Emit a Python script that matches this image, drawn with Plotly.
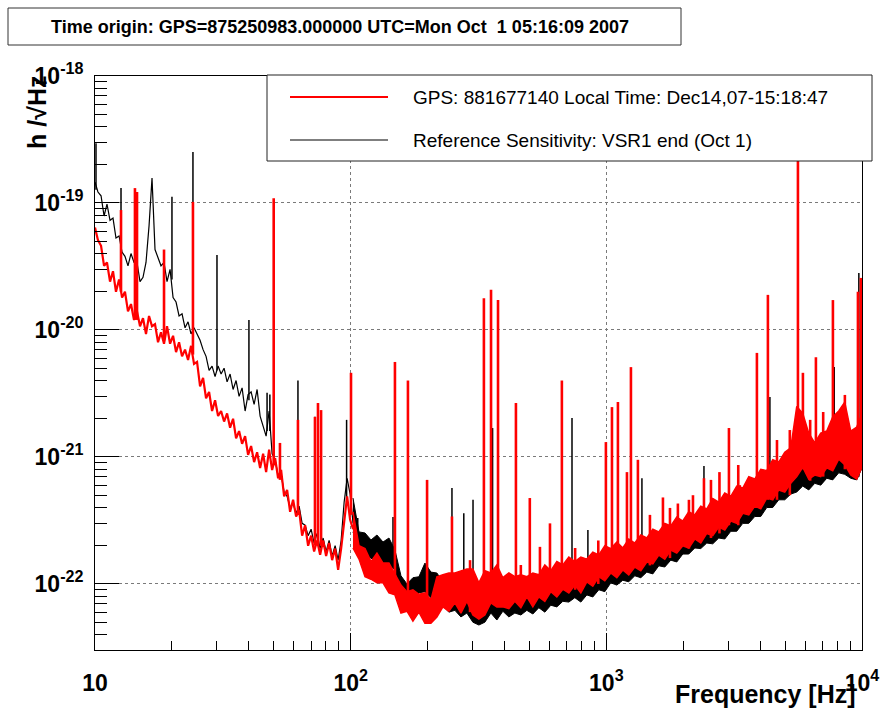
import plotly.graph_objects as go

# ---------------- data ----------------
lf_freq = [10.00, 10.27, 10.56, 10.85, 11.14, 11.45, 11.76, 12.08, 12.42, 12.76,
           13.10, 13.46, 13.83, 14.21, 14.60, 15.00, 15.41, 15.83, 16.27, 16.71,
           17.17, 17.64, 18.12, 18.62, 19.13, 19.66, 20.20, 20.75, 21.32, 21.90,
           22.50, 23.12, 23.75, 24.40, 25.07, 25.76, 26.47, 27.19, 27.94, 28.70,
           29.49, 30.30, 31.13, 31.98, 32.86, 33.76, 34.68, 35.63, 36.61, 37.61,
           38.65, 39.70, 40.79, 41.91, 43.06, 44.24, 45.45, 46.70, 47.97, 49.29,
           50.64, 52.02, 53.45, 54.92, 56.42, 57.96, 59.55, 61.18, 62.86, 64.58,
           66.35, 68.17, 70.03, 71.95, 73.92, 75.95, 78.03, 80.16, 82.36, 84.62,
           86.94, 89.32, 91.76, 94.28, 96.86, 99.51, 102.2]

red_lf = [6.4e-20, 5.1e-20, 4.6e-20, 3.2e-20, 3.4e-20, 2.4e-20, 2.9e-20, 2.0e-20, 2.5e-20, 1.8e-20,
          2.0e-20, 1.4e-20, 1.6e-20, 1.2e-20, 1.4e-20, 1.07e-20, 1.24e-20, 9.3e-21, 1.29e-20, 1.07e-20,
          1.11e-20, 8.0e-21, 9.6e-21, 7.8e-21, 1.07e-20, 7.8e-21, 9.0e-21, 6.7e-21, 8.0e-21, 6.2e-21,
          7.0e-21, 5.8e-21, 7.5e-21, 5.4e-21, 5.6e-21, 3.6e-21, 4.2e-21, 2.9e-21, 3.25e-21, 2.3e-21,
          2.8e-21, 2.1e-21, 2.3e-21, 1.9e-21, 2.2e-21, 1.7e-21, 2.0e-21, 1.4e-21, 1.6e-21, 1.27e-21,
          1.46e-21, 1.04e-21, 1.22e-21, 9.1e-22, 1.09e-21, 8.2e-22, 1.06e-21, 7.6e-22, 1.14e-21, 7.9e-22,
          9.8e-22, 6.8e-22, 7.9e-22, 4.9e-22, 5.5e-22, 3.7e-22, 4.6e-22, 3.4e-22, 3.8e-22, 2.4e-22,
          2.9e-22, 2.0e-22, 2.4e-22, 1.8e-22, 2.2e-22, 1.7e-22, 2.2e-22, 1.66e-22, 2.1e-22, 1.54e-22,
          1.9e-22, 1.29e-22, 1.9e-22, 3.2e-22, 4.9e-22, 3.2e-22, 2.7e-22]

blk_lf = [1.46e-19, 1.22e-19, 1.14e-19, 7.9e-20, 9.8e-20, 7.3e-20, 7.6e-20, 5.3e-20, 5.5e-20, 4.1e-20,
          3.8e-20, 3.2e-20, 4.0e-20, 3.4e-20, 3.4e-20, 2.4e-20, 2.6e-20, 3.4e-20, 6.6e-20, 1.57e-19,
          4.3e-20, 3.7e-20, 3.2e-20, 3.4e-20, 2.4e-20, 3.0e-20, 1.8e-20, 1.66e-20, 1.29e-20, 1.34e-20,
          1.04e-20, 1.16e-20, 9.3e-21, 1.04e-20, 9.3e-21, 8.3e-21, 7.0e-21, 6.2e-21, 4.8e-21, 5.2e-21,
          4.3e-21, 5.2e-21, 4.5e-21, 5.0e-21, 3.9e-21, 4.5e-21, 3.4e-21, 4.0e-21, 3.0e-21, 3.5e-21,
          2.3e-21, 3.1e-21, 3.25e-21, 2.6e-21, 3.4e-21, 2.1e-21, 1.75e-21, 1.46e-21, 2.3e-21, 1.06e-21,
          9.5e-22, 7.1e-22, 7.3e-22, 5.3e-22, 4.9e-22, 4.0e-22, 4.3e-22, 3.6e-22, 4.1e-22, 3.0e-22,
          2.9e-22, 2.4e-22, 2.7e-22, 2.1e-22, 2.5e-22, 1.9e-22, 2.3e-22, 1.8e-22, 2.2e-22, 1.66e-22,
          2.0e-22, 1.54e-22, 2.2e-22, 4.4e-22, 6.8e-22, 5.1e-22, 3.0e-22]

band_freq = [102.1, 107.8, 113.8, 120.1, 126.7, 133.8, 141.2, 149.0, 157.3, 166.0,
             175.2, 184.9, 195.2, 206.0, 217.4, 229.5, 242.2, 255.7, 269.9, 284.8,
             300.6, 317.3, 334.9, 353.5, 373.1, 393.8, 415.7, 438.7, 463.1, 488.8,
             515.9, 544.5, 574.7, 606.6, 640.3, 675.9, 713.4, 753.0, 794.8, 838.9,
             885.4, 934.6, 986.5, 1041, 1099, 1160, 1224, 1292, 1364, 1440,
             1520, 1604, 1693, 1787, 1886, 1991, 2101, 2218, 2341, 2471,
             2608, 2753, 2906, 3067, 3237, 3417, 3607, 3807, 4018, 4241,
             4477, 4725, 4988, 5264, 5557, 5865, 6191, 6534, 6897, 7280,
             7684, 8110, 8561, 9036, 9537, 10000]

red_hi = [3.7e-22, 2.0e-22, 1.9e-22, 1.5e-22, 1.75e-22, 1.46e-22, 1.46e-22, 1.18e-22, 9.8e-23, 8.7e-23,
          9.0e-23, 8.3e-23, 8.5e-23, 7.5e-23, 1.14e-22, 1.18e-22, 1.22e-22, 1.22e-22, 1.27e-22, 1.31e-22,
          1.31e-22, 1.02e-22, 1.27e-22, 1.22e-22, 1.41e-22, 1.12e-22, 1.22e-22, 1.14e-22, 1.18e-22, 1.14e-22,
          1.22e-22, 1.18e-22, 1.41e-22, 1.27e-22, 1.5e-22, 1.41e-22, 1.63e-22, 1.5e-22, 1.63e-22, 1.57e-22,
          1.78e-22, 1.69e-22, 2.0e-22, 1.9e-22, 2.14e-22, 1.92e-22, 2.26e-22, 2.1e-22, 2.43e-22, 2.3e-22,
          2.7e-22, 2.57e-22, 3.0e-22, 2.86e-22, 3.37e-22, 3.13e-22, 3.7e-22, 3.5e-22, 4.1e-22, 3.9e-22,
          4.7e-22, 4.4e-22, 5.2e-22, 4.9e-22, 5.9e-22, 5.7e-22, 7.0e-22, 6.7e-22, 8.0e-22, 7.8e-22,
          9.5e-22, 9.1e-22, 1.09e-21, 1.18e-21, 2.5e-21, 2.2e-21, 1.54e-21, 1.29e-21, 1.54e-21, 1.6e-21,
          2.07e-21, 2.3e-21, 2.7e-21, 1.6e-21, 1.72e-21, 2.2e-21]

red_lo = [1.92e-22, 1.57e-22, 1.14e-22, 1.09e-22, 1.02e-22, 1.02e-22, 8.5e-23, 8.2e-23, 5.9e-23, 6.1e-23,
          5.1e-23, 6.0e-23, 4.9e-23, 4.9e-23, 5.5e-23, 6.6e-23, 6.1e-23, 7.1e-23, 5.9e-23, 7.3e-23,
          5.7e-23, 5.3e-23, 5.7e-23, 7.1e-23, 6.6e-23, 6.6e-23, 6.4e-23, 7.3e-23, 6.5e-23, 7.9e-23,
          6.6e-23, 7.9e-23, 7.3e-23, 8.7e-23, 7.9e-23, 9.1e-23, 8.5e-23, 9.8e-23, 8.5e-23, 1.04e-22,
          9.6e-23, 1.14e-22, 1.06e-22, 1.22e-22, 1.12e-22, 1.29e-22, 1.18e-22, 1.36e-22, 1.27e-22, 1.49e-22,
          1.44e-22, 1.69e-22, 1.57e-22, 1.85e-22, 1.75e-22, 2.0e-22, 1.92e-22, 2.26e-22, 2.1e-22, 2.5e-22,
          2.4e-22, 2.8e-22, 2.66e-22, 3.13e-22, 3.0e-22, 3.6e-22, 3.5e-22, 4.1e-22, 3.9e-22, 4.75e-22,
          4.6e-22, 5.5e-22, 5.3e-22, 6.2e-22, 7.0e-22, 8.3e-22, 6.7e-22, 7.2e-22, 7.0e-22, 8.2e-22,
          7.8e-22, 9.6e-22, 8.7e-22, 7.2e-22, 6.7e-22, 8.3e-22]

blk_hi = [4.75e-22, 2.57e-22, 2.52e-22, 2.22e-22, 2.43e-22, 2.14e-22, 2.3e-22, 1.85e-22, 1.16e-22, 1.0e-22,
          1.12e-22, 1.14e-22, 1.46e-22, 1.24e-22, 1.22e-22, 1.04e-22, 1.12e-22, 1.14e-22, 1.12e-22, 1.07e-22,
          1.02e-22, 7.9e-23, 1.02e-22, 1.04e-22, 1.02e-22, 9.1e-23, 9.3e-23, 8.7e-23, 8.8e-23, 8.7e-23,
          9.0e-23, 8.7e-23, 9.6e-23, 9.1e-23, 9.8e-23, 9.5e-23, 1.02e-22, 9.8e-23, 1.02e-22, 1.04e-22,
          1.16e-22, 1.14e-22, 1.29e-22, 1.24e-22, 1.39e-22, 1.36e-22, 1.54e-22, 1.49e-22, 1.66e-22, 1.63e-22,
          1.92e-22, 1.9e-22, 2.1e-22, 2.07e-22, 2.3e-22, 2.34e-22, 2.66e-22, 2.57e-22, 2.9e-22, 2.86e-22,
          3.3e-22, 3.25e-22, 3.76e-22, 3.7e-22, 4.3e-22, 4.2e-22, 4.9e-22, 4.9e-22, 5.7e-22, 5.7e-22,
          6.6e-22, 6.7e-22, 7.8e-22, 7.6e-22, 9.8e-22, 9.1e-22, 9.5e-22, 9.5e-22, 1.07e-21, 1.06e-21,
          1.22e-21, 1.2e-21, 1.36e-21, 1.09e-21, 1.22e-21, 1.31e-21]

blk_lo = [2.57e-22, 1.92e-22, 1.63e-22, 1.6e-22, 1.44e-22, 1.46e-22, 1.41e-22, 1.29e-22, 7.9e-23, 8.2e-23,
          7.6e-23, 8.5e-23, 8.7e-23, 7.8e-23, 6.6e-23, 6.7e-23, 6.0e-23, 6.2e-23, 5.5e-23, 5.9e-23,
          5.0e-23, 4.75e-23, 5.0e-23, 5.9e-23, 5.2e-23, 6.1e-23, 5.5e-23, 5.9e-23, 5.7e-23, 6.2e-23,
          5.8e-23, 6.5e-23, 6.0e-23, 6.8e-23, 6.6e-23, 7.3e-23, 7.2e-23, 7.8e-23, 7.2e-23, 8.2e-23,
          7.9e-23, 9.0e-23, 8.7e-23, 1.02e-22, 9.8e-23, 1.07e-22, 1.04e-22, 1.16e-22, 1.12e-22, 1.24e-22,
          1.2e-22, 1.39e-22, 1.36e-22, 1.54e-22, 1.49e-22, 1.72e-22, 1.72e-22, 1.92e-22, 1.9e-22, 2.1e-22,
          2.07e-22, 2.3e-22, 2.26e-22, 2.6e-22, 2.6e-22, 3.0e-22, 3.0e-22, 3.4e-22, 3.4e-22, 4.0e-22,
          4.0e-22, 4.6e-22, 4.6e-22, 5.1e-22, 5.3e-22, 5.9e-22, 5.5e-22, 6.2e-22, 6.0e-22, 6.8e-22,
          6.6e-22, 7.5e-22, 7.3e-22, 6.8e-22, 6.6e-22, 8.2e-22]

red_spike_f = [12.64, 14.33, 14.6, 18.62, 24.16, 50.0, 52.9, 62.2, 72.5, 74.5, 76.6, 100.3, 149.0,
               167.5, 199.0, 249.0, 293.0, 332.0, 354.0, 377.0, 443.0, 463.0, 502.0, 550.0, 602.0,
               670.0, 755.0, 930.0, 996.0, 1052, 1110, 1204, 1248, 1329, 1481, 1665, 1774, 1905,
               2104, 2182, 2409, 2566, 2770, 3017, 3281, 3327, 3881, 4285, 4650, 5220, 5616, 5873,
               6270, 6603, 7050, 7695, 8570, 9640, 9900]
red_spike_top = [8.8e-20, 1.31e-19, 1.22e-19, 4.3e-20, 1.02e-19, 1.09e-19, 1.29e-21, 1.96e-21, 2.07e-21,
                 2.66e-21, 2.34e-21, 4.6e-21, 5.6e-21, 4.0e-21, 6.6e-22, 3.4e-22, 1.54e-22, 1.78e-20,
                 2.07e-20, 1.72e-20, 2.66e-21, 1.41e-22, 4.75e-22, 1.96e-22, 3.0e-22, 4.0e-21, 1.92e-22,
                 2.2e-22, 1.31e-21, 2.47e-21, 2.71e-21, 7.6e-22, 5.1e-21, 9.5e-22, 3.5e-22, 4.8e-22,
                 3.97e-22, 4.3e-22, 4.6e-22, 5.0e-22, 6.8e-22, 6.6e-22, 7.6e-22, 1.69e-21, 8.65e-22,
                 6.0e-22, 6.6e-21, 1.89e-20, 1.36e-21, 1.63e-21, 2.2e-19, 4.6e-21, 1.96e-21, 6.1e-21,
                 2.26e-21, 1.72e-20, 3.08e-21, 2.0e-20, 2.57e-20]
red_spike_base = [2.0e-20, 1.2e-20, 1.2e-20, 8.3e-21, 6.4e-21, 8.6e-22, 6.6e-22, 3.7e-22, 2.0e-22,
                  2.0e-22, 2.0e-22, 3.5e-22, 1.07e-22, 7.5e-23, 7.5e-23, 9.0e-23, 6.0e-23, 9.0e-23,
                  9.0e-23, 9.0e-23, 9.0e-23, 7.0e-23, 9.0e-23, 9.0e-23, 9.8e-23, 1.07e-22, 9.0e-23,
                  1.0e-22, 1.29e-22, 1.29e-22, 1.41e-22, 1.41e-22, 1.49e-22, 1.54e-22, 1.4e-22, 1.85e-22,
                  1.6e-22, 2.0e-22, 1.9e-22, 2.2e-22, 2.43e-22, 2.3e-22, 2.5e-22, 2.9e-22, 2.9e-22,
                  3.5e-22, 4.2e-22, 4.6e-22, 4.6e-22, 5.0e-22, 8.0e-22, 8.0e-22, 6.5e-22, 8.0e-22,
                  7.0e-22, 8.0e-22, 8.0e-22, 8.0e-22, 8.0e-22]

blk_spike_f = [10.09, 12.64, 20.0, 24.16, 30.0, 40.0, 47.1, 48.3, 62.2, 72.5, 96.4, 106.6, 146.4,
               249.0, 277.0, 301.0, 354.0, 359.0, 734.0, 847.0, 1378, 2409, 4363, 5616, 7787, 9720]
blk_spike_top = [2.96e-19, 1.31e-19, 1.12e-19, 2.52e-19, 3.9e-20, 1.2e-20, 3.2e-21, 3.1e-21, 4.0e-21,
                 2.07e-21, 1.96e-21, 3.3e-22, 3.37e-22, 5.7e-22, 3.6e-22, 4.6e-22, 1.85e-20, 1.69e-21,
                 2.03e-21, 2.66e-22, 6.8e-22, 8.5e-22, 2.96e-21, 4.3e-20, 5.1e-21, 2.81e-20]
blk_spike_base = [1.27e-19, 4.6e-20, 2.5e-20, 1.0e-20, 4.8e-21, 2.8e-21, 1.6e-21, 1.6e-21, 4.2e-22,
                  2.2e-22, 4.4e-22, 2.2e-22, 1.5e-22, 9.0e-23, 8.0e-23, 7.5e-23, 7.5e-23, 7.5e-23,
                  8.0e-23, 9.0e-23, 1.2e-22, 2.4e-22, 4.6e-22, 6.0e-22, 7.0e-22, 7.0e-22]

title_text = "Time origin: GPS=875250983.000000 UTC=Mon Oct\u00a0 1 05:16:09 2007"
legend_labels = ["GPS: 881677140 Local Time: Dec14,07-15:18:47",
                 "Reference Sensitivity: VSR1 end (Oct 1)"]
legend_colors = ["#ff0000", "#000000"]
x_tick_vals = [10, 100, 1000, 10000]
x_tick_text = ["10", "10<sup>2</sup>", "10<sup>3</sup>", "10<sup>4</sup>"]
y_tick_vals = [1e-22, 1e-21, 1e-20, 1e-19, 1e-18]
y_tick_text = ["10<sup>-22</sup>", "10<sup>-21</sup>", "10<sup>-20</sup>", "10<sup>-19</sup>", "10<sup>-18</sup>"]
x_minor = [m * d for d in (10, 100, 1000) for m in range(2, 10)]
y_minor = [m * d for d in (1e-23, 1e-22, 1e-21, 1e-20, 1e-19) for m in range(1, 10)]

RED = "#ff0000"
BLACK = "#000000"
FONT = "Liberation Sans"


def spikes(fs, bases, tops):
    xs, ys = [], []
    for f, b, t in zip(fs, bases, tops):
        xs += [f, f, None]
        ys += [b, t, None]
    return xs, ys


fig = go.Figure()

# black reference sensitivity
fig.add_trace(go.Scatter(x=lf_freq, y=blk_lf, mode="lines",
                         line=dict(color=BLACK, width=1.2), hoverinfo="skip"))
fig.add_trace(go.Scatter(x=band_freq + band_freq[::-1], y=blk_hi + blk_lo[::-1],
                         mode="lines", fill="toself", fillcolor=BLACK,
                         line=dict(color=BLACK, width=1), hoverinfo="skip"))
bx, by = spikes(blk_spike_f, blk_spike_base, blk_spike_top)
fig.add_trace(go.Scatter(x=bx, y=by, mode="lines", line=dict(color=BLACK, width=1.5),
                         hoverinfo="skip"))

# red current spectrum
fig.add_trace(go.Scatter(x=lf_freq, y=red_lf, mode="lines",
                         line=dict(color=RED, width=2.2), hoverinfo="skip"))
fig.add_trace(go.Scatter(x=band_freq + band_freq[::-1], y=red_hi + red_lo[::-1],
                         mode="lines", fill="toself", fillcolor=RED,
                         line=dict(color=RED, width=1.5), hoverinfo="skip"))
rx, ry = spikes(red_spike_f, red_spike_base, red_spike_top)
fig.add_trace(go.Scatter(x=rx, y=ry, mode="lines", line=dict(color=RED, width=2.6),
                         hoverinfo="skip"))

axis_common = dict(type="log", showline=True, linecolor=BLACK, linewidth=1, mirror=True,
                   showgrid=True, gridcolor="#7a7a7a", griddash="dot", gridwidth=1,
                   zeroline=False, ticks="inside", tickcolor=BLACK, tickwidth=1,
                   tickmode="array",
                   tickfont=dict(family=FONT, size=23, color=BLACK, weight="bold"))

fig.update_xaxes(**axis_common, range=[1, 4], tickvals=x_tick_vals, ticktext=x_tick_text,
                 ticklen=17, ticklabelstandoff=12,
                 minor=dict(tickmode="array", tickvals=x_minor, ticks="inside", ticklen=9,
                            tickcolor=BLACK, tickwidth=1, showgrid=False))
fig.update_yaxes(**axis_common, range=[-22.52, -18], tickvals=y_tick_vals, ticktext=y_tick_text,
                 ticklen=24, ticklabelstandoff=6,
                 minor=dict(tickmode="array", tickvals=y_minor, ticks="inside", ticklen=12,
                            tickcolor=BLACK, tickwidth=1, showgrid=False))

W, H = 880, 709
L, R, T, B = 95, 18, 76, 59
pw, ph = W - L - R, H - T - B


def px(x):
    return (x - L) / pw


def py(y):
    return (H - B - y) / ph


shapes = [
    # title box
    dict(type="rect", xref="paper", yref="paper", x0=px(8), x1=px(681), y0=py(45), y1=py(8),
         line=dict(color="#333333", width=1), fillcolor="white", layer="above"),
    # legend box
    dict(type="rect", xref="paper", yref="paper", x0=px(267), x1=px(872), y0=py(161), y1=py(75),
         line=dict(color="#222222", width=1), fillcolor="white", layer="above"),
]
annotations = [
    dict(text="<b>" + title_text + "</b>", xref="paper", yref="paper", x=px(340), y=py(27),
         showarrow=False, font=dict(family=FONT, size=18, color=BLACK),
         xanchor="center", yanchor="middle"),
    dict(text="<b>h /\u221aHz</b>", xref="paper", yref="paper", x=px(37), y=py(112),
         showarrow=False, textangle=-90, font=dict(family=FONT, size=25, color=BLACK),
         xanchor="center", yanchor="middle"),
    dict(text="<b>Frequency [Hz]</b>", xref="paper", yref="paper", x=px(858), y=py(694),
         showarrow=False, font=dict(family=FONT, size=25, color=BLACK),
         xanchor="right", yanchor="middle"),
]
legend_rows = [97, 140]
legend_widths = [2.2, 1.2]
for lbl, col, yy, lw in zip(legend_labels, legend_colors, legend_rows, legend_widths):
    shapes.append(dict(type="line", xref="paper", yref="paper", x0=px(290), x1=px(388),
                       y0=py(yy), y1=py(yy), line=dict(color=col, width=lw), layer="above"))
    annotations.append(dict(text=lbl, xref="paper", yref="paper", x=px(411), y=py(yy),
                            showarrow=False, xanchor="left", yanchor="middle",
                            font=dict(family=FONT, size=19, color=BLACK)))

fig.update_layout(width=W, height=H, margin=dict(l=L, r=R, t=T, b=B, autoexpand=False),
                  paper_bgcolor="white", plot_bgcolor="white", showlegend=False,
                  shapes=shapes, annotations=annotations)

fig.write_html("out.html")
